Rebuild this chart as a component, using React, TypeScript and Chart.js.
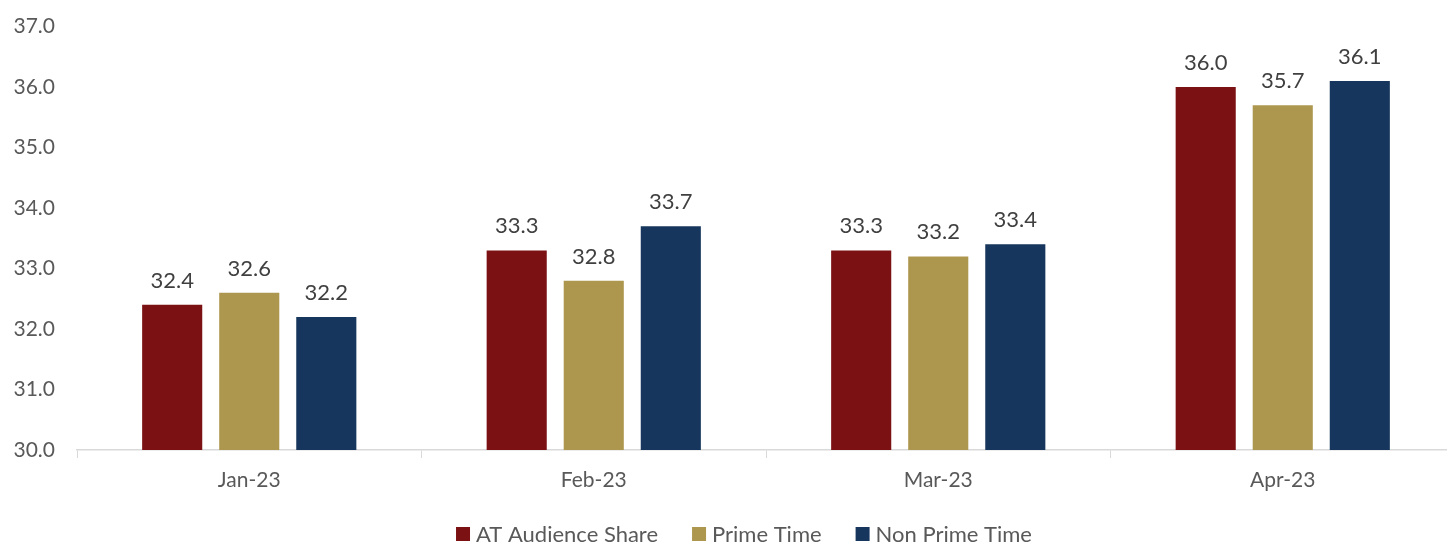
import React, { useEffect, useRef } from "react";
import { Chart, registerables } from "chart.js";

Chart.register(...registerables);

const categories = ["Jan-23", "Feb-23", "Mar-23", "Apr-23"];
const audienceShare = [32.4, 33.3, 33.3, 36.0];
const primeTime = [32.6, 32.8, 33.2, 35.7];
const nonPrimeTime = [32.2, 33.7, 33.4, 36.1];
const seriesNames = ["AT Audience Share", "Prime Time", "Non Prime Time"];
const seriesColors = ["#7B1113", "#AD974F", "#17365D"];

const FONT = "Lato, 'Open Sans', sans-serif";

const valueLabels = {
  id: "valueLabels",
  afterDatasetsDraw(chart: any) {
    const ctx = chart.ctx;
    ctx.save();
    ctx.font = `22px ${FONT}`;
    ctx.fillStyle = "#404040";
    ctx.textAlign = "center";
    ctx.textBaseline = "alphabetic";
    chart.data.datasets.forEach((ds: any, i: number) => {
      const meta = chart.getDatasetMeta(i);
      meta.data.forEach((bar: any, j: number) => {
        ctx.fillText(Number(ds.data[j]).toFixed(1), bar.x, bar.y - 17);
      });
    });
    ctx.restore();
  },
};

const customLegend = {
  id: "customLegend",
  afterDraw(chart: any) {
    const ctx = chart.ctx;
    ctx.save();
    ctx.font = `22px ${FONT}`;
    const box = 14;
    const gapText = 6;
    const gapItem = 34;
    const widths = chart.data.datasets.map((d: any) => ctx.measureText(d.label).width);
    const total = widths.reduce((a: number, w: number) => a + box + gapText + w, 0) + gapItem * (widths.length - 1);
    let x = 744 - total / 2;
    const yMid = 534;
    chart.data.datasets.forEach((d: any, i: number) => {
      ctx.fillStyle = d.backgroundColor;
      ctx.fillRect(x, yMid - box / 2, box, box);
      x += box + gapText;
      ctx.fillStyle = "#595959";
      ctx.textAlign = "left";
      ctx.textBaseline = "middle";
      ctx.fillText(d.label, x, yMid + 1);
      x += widths[i] + gapItem;
    });
    ctx.restore();
  },
};

export default function App() {
  const ref = useRef<HTMLCanvasElement | null>(null);
  useEffect(() => {
    document.body.style.overflow = "hidden";
    document.body.style.margin = "0";
    const chart = new Chart(ref.current as HTMLCanvasElement, {
      type: "bar",
      data: {
        labels: categories,
        datasets: [audienceShare, primeTime, nonPrimeTime].map((d, i) => ({
          label: seriesNames[i],
          data: d,
          backgroundColor: seriesColors[i],
          categoryPercentage: 0.671,
          barPercentage: 0.78,
        })),
      },
      options: {
        animation: false,
        responsive: false,
        maintainAspectRatio: false,
        layout: { padding: { top: 10, right: 0, left: 0, bottom: 0 } },
        plugins: {
          tooltip: { enabled: false },
          legend: { display: false },
        },
        scales: {
          x: {
            grid: {
              display: true,
              drawOnChartArea: false,
              drawTicks: true,
              tickLength: 8,
              offset: true,
              color: "#D9D9D9",
            },
            border: { display: true, color: "#D9D9D9", width: 1.5 },
            ticks: { color: "#595959", font: { size: 21, family: FONT }, padding: 10 },
            afterFit: (s: any) => {
              s.height = 93;
            },
          },
          y: {
            min: 30,
            max: 37,
            ticks: {
              stepSize: 1,
              color: "#595959",
              font: { size: 21, family: FONT },
              padding: 14,
              callback: (v: any) => Number(v).toFixed(1),
            },
            grid: { display: false },
            border: { display: false },
            afterFit: (s: any) => {
              s.width = 77;
            },
          },
        },
      },
      plugins: [valueLabels, customLegend],
    } as any);
    return () => chart.destroy();
  }, []);
  return (
    <div style={{ position: "absolute", left: 0, top: 0, width: 1455, height: 543 }}>
      <canvas ref={ref} width={1455} height={543} style={{ width: 1455, height: 543 }} />
    </div>
  );
}
